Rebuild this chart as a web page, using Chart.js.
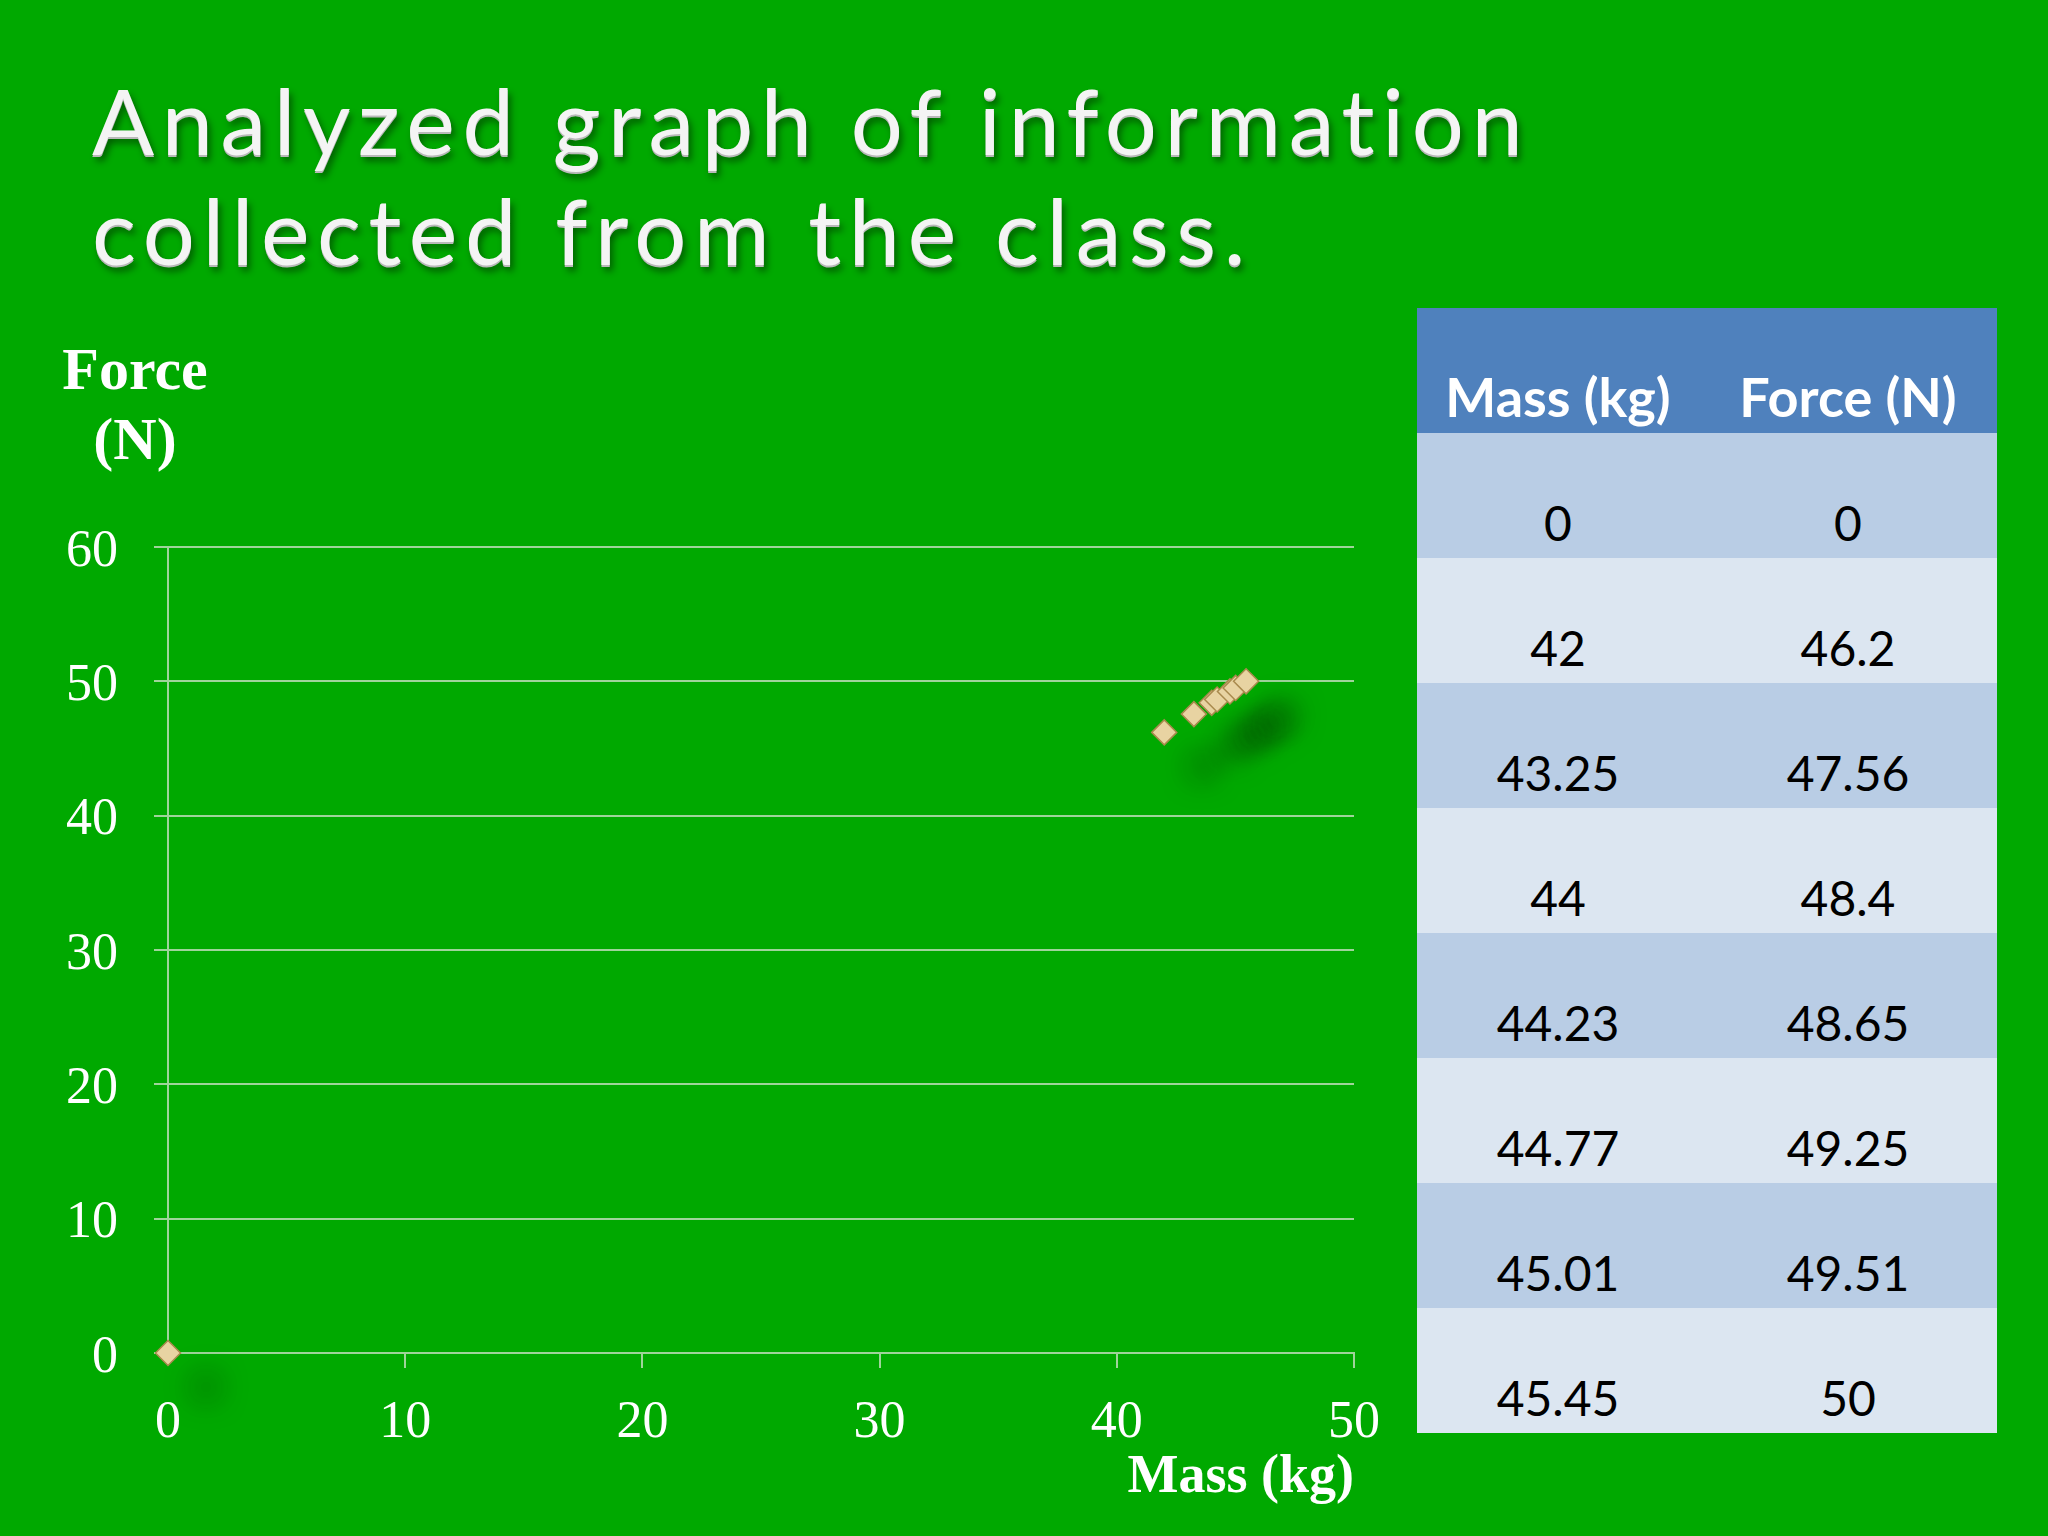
<!DOCTYPE html>
<html>
<head>
<meta charset="utf-8">
<script src="https://cdn.jsdelivr.net/npm/chart.js@4.4.1/dist/chart.umd.min.js"></script>
<style>
    html, body { margin: 0; padding: 0; }
    body {
        width: 2048px;
        height: 1536px;
        background: #00a900;
        position: relative;
        overflow: hidden;
        font-family: Lato, sans-serif;
    }
    #title {
        position: absolute;
        left: 92px;
        top: 65px;
        margin: 0;
        font-family: Lato, sans-serif;
        font-weight: 400;
        font-size: 92px;
        line-height: 110px;
        color: #f4f4f4;
        white-space: nowrap;
        text-shadow: 0 2px 0 #b9b9b9, 3px 6px 7px rgba(0, 0, 0, 0.45);
    }
    #yTitle {
        position: absolute;
        left: 35px;
        top: 334px;
        width: 200px;
        text-align: center;
        font-family: "Liberation Serif", serif;
        font-weight: bold;
        font-size: 60px;
        line-height: 70px;
        color: #ffffff;
    }
    #chartBox {
        position: absolute;
        left: 0;
        top: 440px;
        width: 1404px;
        height: 1096px;
    }
    #dataTable {
        position: absolute;
        left: 1417px;
        top: 308px;
        width: 580px;
        border-collapse: collapse;
        table-layout: fixed;
        font-family: Lato, sans-serif;
    }
    #dataTable tr { height: 125px; }
    #dataTable th, #dataTable td {
        padding: 0;
        vertical-align: bottom;
        text-align: center;
    }
    #dataTable th {
        background: #4f81bd;
        color: #ffffff;
        font-weight: bold;
        font-size: 54px;
        line-height: 54px;
        padding-bottom: 9px;
    }
    #dataTable td {
        color: #000000;
        font-size: 48px;
        line-height: 48px;
        padding-bottom: 11px;
    }
    #dataTable tbody tr:nth-child(odd) td { background: #b9cde5; }
    #dataTable tbody tr:nth-child(even) td { background: #dce6f1; }
</style>
</head>
<body>
<h1 id="title"><span id="t1">Analyzed graph of information</span><br><span id="t2">collected from the class.</span></h1>
<div id="yTitle">Force<br>(N)</div>
<div id="chartBox"><canvas id="forceChart"></canvas></div>
<table id="dataTable">
    <colgroup><col style="width: 282px"><col style="width: 298px"></colgroup>
    <thead><tr><th>Mass (kg)</th><th>Force (N)</th></tr></thead>
    <tbody id="tableBody"></tbody>
</table>
<script>
// class data
const massKg = [0, 42, 43.25, 44, 44.23, 44.77, 45.01, 45.45];
const forceN = [0, 46.2, 47.56, 48.4, 48.65, 49.25, 49.51, 50];

const xMax = 50;
const yMax = 60;
const tickStep = 10;

const gridColor = "#9fd49b";
const serif = "'Liberation Serif', 'Times New Roman', serif";

// spread the title letters so line 1 spans the slide's width
const titleEl = document.getElementById("title");
const measure = document.createElement("canvas").getContext("2d");
measure.font = "400 92px Lato";
const line1 = document.getElementById("t1").textContent;
const w1 = measure.measureText(line1).width;
titleEl.style.letterSpacing = ((1434 - w1) / (line1.length - 1)).toFixed(2) + "px";

// table rows
const tbody = document.getElementById("tableBody");
massKg.forEach((m, i) => {
    const tr = document.createElement("tr");
    [m, forceN[i]].forEach((v) => {
        const td = document.createElement("td");
        td.textContent = String(v);
        tr.appendChild(td);
    });
    tbody.appendChild(tr);
});

const pointShadow = {
    id: "pointShadow",
    beforeDatasetsDraw(chart) {
        const ctx = chart.ctx;
        ctx.save();
        ctx.shadowColor = "rgba(0, 45, 0, 0.5)";
        ctx.shadowBlur = 30;
        ctx.shadowOffsetX = 38;
        ctx.shadowOffsetY = 34;
    },
    afterDatasetsDraw(chart) {
        chart.ctx.restore();
    },
};

const ctx = document.getElementById("forceChart").getContext("2d");

const forceChart = new Chart(ctx, {
    type: "scatter",
    data: {
        datasets: [
            {
                label: "Force (N)",
                data: massKg.map((m, i) => ({ x: m, y: forceN[i] })),
                pointStyle: "rectRot",
                pointRadius: 12.5,
                pointHoverRadius: 12.5,
                backgroundColor: "#e8d3a2",
                borderColor: "#a98a4e",
                borderWidth: 1.5,
                clip: false,
            },
        ],
    },
    options: {
        responsive: true,
        maintainAspectRatio: false,
        animation: false,
        layout: {
            autoPadding: false,
            padding: { top: 107, right: 50, left: 0, bottom: 0 },
        },
        plugins: {
            legend: { display: false },
            tooltip: { enabled: false },
        },
        scales: {
            x: {
                type: "linear",
                min: 0,
                max: xMax,
                ticks: {
                    stepSize: tickStep,
                    color: "#ffffff",
                    font: { family: serif, size: 52 },
                    padding: 24,
                },
                grid: {
                    drawOnChartArea: false,
                    tickLength: 15,
                    lineWidth: 2,
                    color: (c) => (c.tick && c.tick.value === 0 ? "transparent" : gridColor),
                },
                border: { color: gridColor, width: 2 },
                title: {
                    display: true,
                    text: "Mass (kg)",
                    align: "end",
                    color: "#ffffff",
                    font: { family: serif, size: 54, weight: "bold" },
                    padding: { top: 0, bottom: 26 },
                },
                afterFit: (scale) => {
                    scale.height = 183;
                },
            },
            y: {
                min: 0,
                max: yMax,
                ticks: {
                    stepSize: tickStep,
                    color: "#ffffff",
                    font: { family: serif, size: 52 },
                    padding: 36,
                    labelOffset: 5,
                },
                grid: { color: gridColor, lineWidth: 2, tickLength: 14 },
                border: { color: gridColor, width: 2 },
                afterFit: (scale) => {
                    scale.width = 168;
                },
            },
        },
    },
    plugins: [pointShadow],
});
</script>
</body>
</html>
